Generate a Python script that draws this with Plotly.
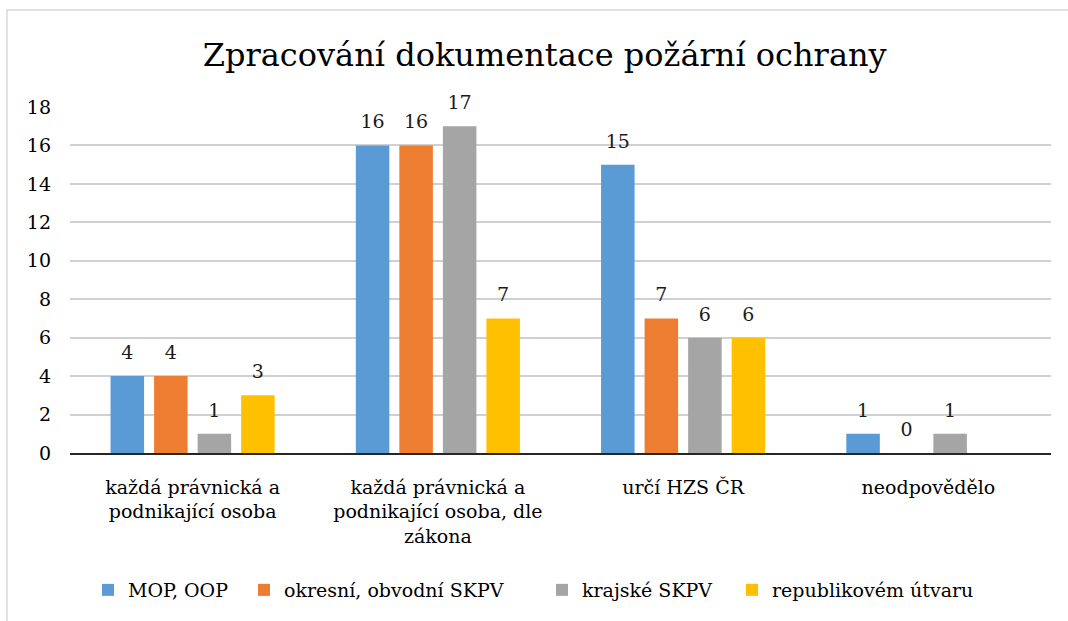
import plotly.graph_objects as go

categories = [
    "každá právnická a<br>podnikající osoba",
    "každá právnická a<br>podnikající osoba, dle<br>zákona",
    "určí HZS ČR",
    "neodpovědělo",
]
series_names = ["MOP, OOP", "okresní, obvodní SKPV", "krajské SKPV", "republikovém útvaru"]
mop_oop = [4, 16, 15, 1]
okresni = [4, 16, 7, 0]
krajske = [1, 17, 6, 1]
republikove = [3, 7, 6, None]
colors = ["#5B9BD5", "#ED7D31", "#A5A5A5", "#FFC000"]
y_ticks = [0, 2, 4, 6, 8, 10, 12, 14, 16, 18]

FONT = "DejaVu Serif"
FS = 19

L, R, T, B = 70, 17, 107, 168
W, H = 1068, 621
pw, ph = W - L - R, H - T - B

# left edges (px) of the four separate legends
legend_left_px = [88, 244, 542, 732]
legend_keys = ["legend", "legend2", "legend3", "legend4"]

fig = go.Figure()
all_vals = [mop_oop, okresni, krajske, republikove]
for name, vals, col, lk in zip(series_names, all_vals, colors, legend_keys):
    fig.add_trace(go.Bar(
        x=categories, y=vals, name=name,
        marker=dict(color=col, line=dict(width=0)),
        legend=lk, hoverinfo="skip",
    ))
for name, vals in zip(series_names, all_vals):
    fig.add_trace(go.Scatter(
        x=categories, y=vals, name=name + " labels",
        mode="markers+text",
        marker=dict(size=18, opacity=0),
        text=[("" if v is None else str(v)) for v in vals],
        textposition="top center", cliponaxis=False,
        textfont=dict(family=FONT, size=FS, color="#1a1a1a"),
        showlegend=False, hoverinfo="skip",
    ))

legend_common = dict(orientation="h", xanchor="left",
                     y=-(590 - (T + ph)) / ph, yanchor="middle",
                     font=dict(family=FONT, size=FS, color="#000000"),
                     itemwidth=30, bgcolor="rgba(0,0,0,0)")
legends = {lk: dict(legend_common, x=(lx - L) / pw) for lk, lx in zip(legend_keys, legend_left_px)}

fig.update_layout(
    width=W, height=H,
    margin=dict(l=L, r=R, t=T, b=B, autoexpand=False),
    paper_bgcolor="white", plot_bgcolor="white",
    barmode="group", bargap=0.29, bargroupgap=0.23,
    scattermode="group", scattergap=0.29,
    title=dict(text="Zpracování dokumentace požární ochrany",
               font=dict(family=FONT, size=32, color="#000000"),
               x=0.51, xanchor="center", y=1 - 55 / H, yanchor="middle"),
    font=dict(family=FONT, size=FS, color="#000000"),
    showlegend=True,
    xaxis=dict(showgrid=False, showline=True, linecolor="#262626", linewidth=1.5,
               ticks="", tickfont=dict(family=FONT, size=FS, color="#000000"),
               ticklabelstandoff=16),
    yaxis=dict(range=[0, 18], tickvals=y_ticks, showgrid=True, gridcolor="#D0D0D0",
               gridwidth=1.5, zeroline=False, showline=False, ticks="",
               tickfont=dict(family=FONT, size=FS, color="#000000"),
               ticklabelstandoff=18),
    shapes=[dict(type="rect", xref="paper", yref="paper",
                 x0=(7 - L) / pw, x1=(W + 5 - L) / pw,
                 y0=-(H + 5 - (T + ph)) / ph, y1=(T + ph - 10) / ph,
                 line=dict(color="#D9D9D9", width=1.5), fillcolor="rgba(0,0,0,0)",
                 layer="below")],
    **legends,
)

fig.write_html("out.html", config={"displayModeBar": False},
               post_script="document.body.style.margin='0px';")
